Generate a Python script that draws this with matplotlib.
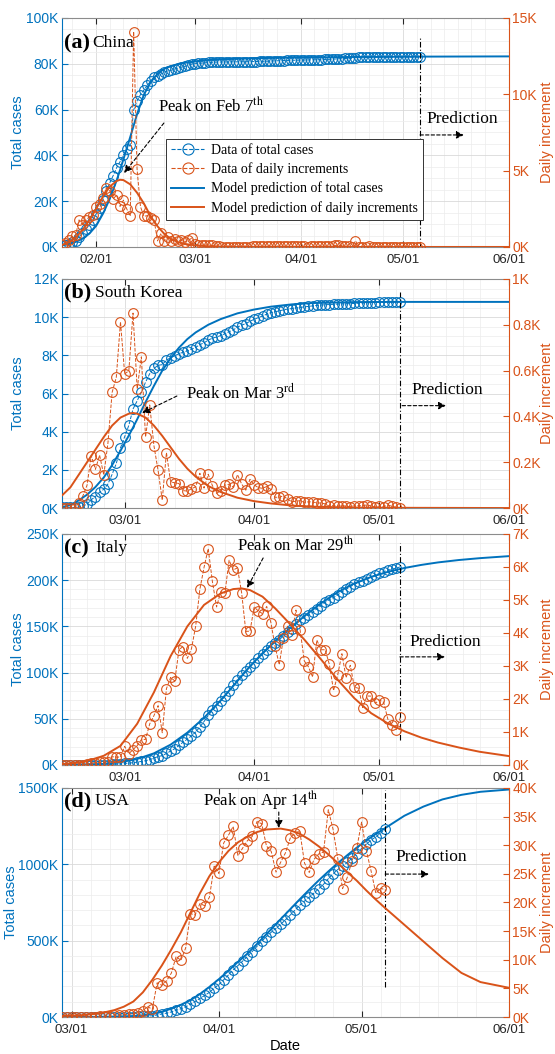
import numpy as np
import matplotlib
matplotlib.use("Agg")
import matplotlib.pyplot as plt
import matplotlib.dates as mdates
from matplotlib.lines import Line2D
from matplotlib.ticker import AutoMinorLocator, FuncFormatter, MultipleLocator

BLUE = "#0072BD"
ORANGE = "#D95319"
SERIF = "Liberation Serif"

plt.rcParams["font.family"] = "Liberation Sans"
plt.rcParams["mathtext.fontset"] = "stix"

# ---- data, all values in thousands of cases ----
# (a) China, daily data from 2020-01-22
china_start = "2020-01-22"
china_total = [
    0.571, 0.830, 1.287, 1.975, 2.744, 4.515, 5.974, 7.711, 9.692, 11.791,
    14.380, 17.205, 20.438, 24.324, 28.018, 31.161, 34.546, 37.198, 40.171, 42.638,
    44.653, 59.804, 63.851, 66.492, 68.500, 70.548, 72.436, 74.185, 74.576, 75.465,
    76.288, 76.936, 77.150, 77.658, 78.064, 78.497, 78.824, 79.251, 79.824,
    80.026, 80.151, 80.270, 80.409, 80.552, 80.651, 80.695, 80.735, 80.754, 80.778,
    80.793, 80.813, 80.824, 80.844, 80.860, 80.881, 80.894, 80.928, 80.967, 81.008,
    81.054, 81.093, 81.171, 81.218, 81.285, 81.340, 81.394, 81.439, 81.470, 81.518, 81.554,
    81.589, 81.620, 81.639, 81.669, 81.708, 81.740, 81.802, 81.865, 81.907, 81.953,
    82.052, 82.160, 82.249, 82.295, 82.341, 82.367, 82.692, 82.719, 82.735, 82.747,
    82.788, 82.798, 82.804, 82.816, 82.827, 82.830, 82.836, 82.858, 82.862, 82.874,
    82.875, 82.877, 82.880, 82.881, 82.883, 82.885,
]
china_daily = [
    0.131, 0.259, 0.444, 0.688, 0.769, 1.771, 1.459, 1.737, 1.982, 2.102,
    2.590, 2.829, 3.235, 3.887, 3.694, 3.143, 3.399, 2.656, 3.062, 2.478,
    2.015, 14.11, 5.090, 2.641, 2.009, 2.048, 1.886, 1.749, 0.394, 0.889,
    0.397, 0.648, 0.409, 0.508, 0.406, 0.433, 0.327, 0.427, 0.573,
    0.202, 0.125, 0.119, 0.139, 0.143, 0.099, 0.044, 0.040, 0.019, 0.024,
    0.015, 0.008, 0.011, 0.020, 0.016, 0.021, 0.013, 0.034, 0.039, 0.041,
    0.046, 0.039, 0.078, 0.047, 0.067, 0.055, 0.054, 0.045, 0.031, 0.048, 0.036,
    0.035, 0.031, 0.019, 0.030, 0.039, 0.032, 0.062, 0.063, 0.042, 0.046,
    0.099, 0.108, 0.089, 0.046, 0.046, 0.026, 0.400, 0.027, 0.016, 0.012,
    0.041, 0.010, 0.006, 0.012, 0.011, 0.003, 0.006, 0.022, 0.004, 0.012,
    0.001, 0.002, 0.003, 0.001, 0.002, 0.002,
]
china_model_day = [0, 2, 4, 6, 8, 10, 12, 14, 16, 17, 18, 20, 22, 24, 26, 28, 30,
                   32, 34, 36, 39, 43, 50, 60, 75, 90, 105, 131]
china_model_total = [0.8, 1.3, 2.2, 3.6, 5.8, 9.2, 14.5, 21.0, 29.0, 33.5, 38.3, 48.0,
                     58.0, 66.5, 72.0, 75.6, 77.8, 79.0, 79.8, 80.4, 81.0, 81.6, 82.1,
                     82.5, 82.8, 83.0, 83.1, 83.2]
china_model_daily = [0.12, 0.3, 0.62, 1.1, 1.75, 2.5, 3.3, 3.95, 4.32, 4.4, 4.38, 4.1,
                     3.55, 2.85, 2.0, 1.35, 0.85, 0.52, 0.32, 0.2, 0.1, 0.04, 0.01,
                     0.0, 0.0, 0.0, 0.0, 0.0]

# (b) South Korea, daily data from 2020-02-15
korea_start = "2020-02-15"
korea_total = [
    0.028, 0.029, 0.030, 0.031, 0.051, 0.104, 0.204, 0.433, 0.602, 0.833,
    0.977, 1.261, 1.766, 2.337, 3.150,
    3.736, 4.335, 5.186, 5.621, 6.088, 6.593, 7.041, 7.314, 7.478, 7.513,
    7.755, 7.869, 7.979, 8.086, 8.162, 8.236, 8.320, 8.413, 8.565, 8.652,
    8.799, 8.897, 8.961, 9.037, 9.137, 9.241, 9.332, 9.478, 9.583, 9.661, 9.786,
    9.887, 9.976, 10.062, 10.156, 10.237, 10.284, 10.331, 10.384, 10.423, 10.450,
    10.480, 10.512, 10.537, 10.564, 10.591, 10.613, 10.635, 10.653, 10.661, 10.674,
    10.683, 10.694, 10.702, 10.708, 10.718, 10.728, 10.738, 10.752, 10.761, 10.765,
    10.774, 10.780, 10.793, 10.801, 10.804, 10.806,
]
korea_daily = [
    0.000, 0.001, 0.001, 0.001, 0.020, 0.053, 0.100, 0.229, 0.169, 0.231,
    0.144, 0.284, 0.505, 0.571, 0.813,
    0.586, 0.599, 0.851, 0.520, 0.660, 0.310, 0.450, 0.273, 0.164, 0.035,
    0.242, 0.114, 0.110, 0.107, 0.076, 0.074, 0.084, 0.093, 0.152, 0.087,
    0.147, 0.098, 0.064, 0.076, 0.100, 0.104, 0.091, 0.146, 0.105, 0.078, 0.125,
    0.101, 0.089, 0.086, 0.094, 0.081, 0.047, 0.047, 0.053, 0.039, 0.027,
    0.030, 0.032, 0.025, 0.027, 0.027, 0.022, 0.022, 0.018, 0.008, 0.013,
    0.009, 0.011, 0.008, 0.006, 0.010, 0.010, 0.010, 0.014, 0.009, 0.004,
    0.009, 0.006, 0.013, 0.008, 0.003, 0.002,
]
korea_model_day = [0, 2, 4, 6, 8, 10, 12, 14, 16, 17, 18, 20, 22, 24, 26, 28, 30, 32,
                   35, 38, 42, 46, 50, 55, 60, 70, 80, 107]
korea_model_total = [0.05, 0.15, 0.4, 0.7, 1.1, 1.6, 2.25, 3.0, 3.8, 4.22, 4.65, 5.55,
                     6.4, 7.2, 7.85, 8.4, 8.85, 9.2, 9.6, 9.9, 10.2, 10.4, 10.55,
                     10.67, 10.74, 10.79, 10.8, 10.8]
korea_model_daily = [0.055, 0.09, 0.145, 0.2, 0.255, 0.31, 0.36, 0.395, 0.412, 0.415,
                     0.412, 0.395, 0.36, 0.315, 0.265, 0.215, 0.172, 0.137, 0.096,
                     0.07, 0.045, 0.03, 0.02, 0.011, 0.006, 0.002, 0.001, 0.0]

# (c) Italy, daily data from 2020-02-15
italy_start = "2020-02-15"
italy_total = [
    0.003, 0.003, 0.003, 0.003, 0.003, 0.003, 0.020, 0.079, 0.152, 0.229,
    0.322, 0.400, 0.650, 0.888, 1.128,
    1.694, 2.036, 2.502, 3.089, 3.858, 4.636, 5.883, 7.375, 9.172, 10.149,
    12.462, 15.113, 17.660, 21.157, 24.747, 27.980, 31.506, 35.713, 41.035, 47.021,
    53.578, 59.138, 63.927, 69.176, 74.386, 80.589, 86.498, 92.472, 97.689, 101.739, 105.792,
    110.574, 115.242, 119.827, 124.632, 128.948, 132.547, 135.586, 139.422, 143.626, 147.577,
    152.271, 156.363, 159.516, 162.488, 165.155, 168.941, 172.434, 175.925, 178.972, 181.228,
    183.957, 187.327, 189.973, 192.994, 195.351, 197.675, 199.414, 201.505, 203.591, 205.463,
    207.428, 209.328, 210.717, 211.938, 213.013, 214.457,
]
italy_daily = [
    0.0, 0.0, 0.0, 0.0, 0.0, 0.0, 0.017, 0.059, 0.073, 0.077,
    0.093, 0.078, 0.250, 0.238, 0.240,
    0.566, 0.342, 0.466, 0.587, 0.769, 0.778, 1.247, 1.492, 1.797, 0.977,
    2.313, 2.651, 2.547, 3.497, 3.590, 3.233, 3.526, 4.207, 5.322, 5.986,
    6.557, 5.560, 4.789, 5.249, 5.210, 6.203, 5.909, 5.974, 5.217, 4.050, 4.053,
    4.782, 4.668, 4.585, 4.805, 4.316, 3.599, 3.039, 3.836, 4.204, 3.951,
    4.694, 4.092, 3.153, 2.972, 2.667, 3.786, 3.493, 3.491, 3.047, 2.256,
    2.729, 3.370, 2.646, 3.021, 2.357, 2.324, 1.739, 2.091, 2.086, 1.872,
    1.965, 1.900, 1.389, 1.221, 1.075, 1.444,
]
italy_model_day = [0, 5, 10, 14, 18, 22, 26, 30, 34, 38, 41, 43, 45, 48, 51, 54, 58,
                   62, 66, 70, 74, 78, 82, 86, 90, 95, 100, 107]
italy_model_total = [0.3, 0.6, 1.2, 3.0, 6.5, 12.6, 22.0, 35.0, 51.0, 70.0, 85.5, 96.2,
                     106.8, 121.0, 134.0, 146.0, 161.0, 175.0, 187.0, 196.5, 203.5,
                     209.0, 213.2, 216.5, 219.2, 221.8, 223.8, 226.0]
italy_model_daily = [0.03, 0.08, 0.28, 0.58, 1.25, 2.2, 3.3, 4.2, 4.85, 5.2, 5.33, 5.35,
                     5.3, 5.1, 4.75, 4.35, 3.8, 3.2, 2.58, 2.02, 1.57, 1.26, 1.02, 0.83,
                     0.68, 0.53, 0.4, 0.27]

# (d) USA, daily data from 2020-02-28
usa_start = "2020-02-28"
usa_total = [
    0.062, 0.070,
    0.075, 0.098, 0.118, 0.149, 0.217, 0.262, 0.402, 0.518, 0.583, 0.959,
    1.281, 1.663, 2.179, 2.727, 3.499, 4.632, 6.421, 7.783, 13.747, 19.273,
    25.600, 33.276, 43.843, 53.736, 65.778, 83.836, 101.657, 121.465, 140.909, 161.831, 188.172,
    213.242, 243.622, 275.367, 308.650, 336.802, 366.317, 397.121, 428.654, 462.780, 496.535,
    526.396, 555.313, 580.619, 607.670, 636.350, 667.592, 699.706, 732.197, 759.086, 784.326,
    811.865, 840.351, 869.170, 905.358, 938.154, 965.785, 988.197, 1012.582, 1039.909, 1069.424,
    1103.461, 1132.539, 1158.040, 1180.375, 1204.351, 1229.331,
]
usa_daily = [
    0.002, 0.008,
    0.005, 0.023, 0.020, 0.031, 0.068, 0.045, 0.140, 0.116, 0.065, 0.376,
    0.322, 0.382, 0.516, 0.548, 0.772, 1.133, 1.789, 1.362, 5.964, 5.526,
    6.327, 7.676, 10.567, 9.893, 12.042, 18.058, 17.821, 19.808, 19.444, 20.922, 26.341,
    25.070, 30.380, 31.745, 33.283, 28.152, 29.515, 30.804, 31.533, 34.126, 33.755,
    29.861, 28.917, 25.306, 27.051, 28.680, 31.242, 32.114, 32.491, 26.889, 25.240,
    27.539, 28.486, 28.819, 36.188, 32.796, 27.631, 22.412, 24.385, 27.327, 29.515,
    34.037, 29.078, 25.501, 21.600, 22.500, 22.200,
]
usa_model_day = [0, 4, 8, 11, 13, 15, 17, 19, 21, 23, 25, 27, 29, 31, 33, 35, 37, 39, 41,
                 43, 46, 48, 50, 52, 54, 56, 58, 60, 62, 64, 66, 68, 72, 76, 80, 84, 88, 94]
usa_model_total = [0.1, 0.5, 1.5, 3.0, 4.5, 6.5, 11, 20, 34, 55, 80, 110, 150, 197, 248,
                   303, 361, 415, 478, 543, 641, 706, 771, 834, 895, 953, 1008, 1060,
                   1110, 1156, 1199, 1238, 1318, 1378, 1425, 1455, 1475, 1490]
usa_model_daily = [0.2, 0.3, 0.64, 1.2, 1.8, 2.7, 4.3, 6.5, 9.0, 11.8, 14.8, 18.2, 21.6,
                   24.6, 27.0, 29.0, 30.5, 31.5, 32.3, 32.75, 32.9, 32.6, 32.0, 31.0,
                   29.8, 28.4, 26.9, 25.3, 23.8, 22.1, 20.5, 19.0, 16.1, 13.2, 10.3, 7.7,
                   6.1, 5.1]


def k_fmt(v, _):
    return f"{v:g}K"


def draw_panel(fig, p):
    ax = fig.add_axes(p["rect"])
    ax2 = ax.twinx()

    start = np.datetime64(p["start"])
    days = start + np.arange(len(p["total"]))
    mdays = start + np.array(p["mday"])

    data_style = dict(ls="--", lw=0.7, marker="o", ms=7, mfc="none", mew=0.8)
    ax.plot(days, p["total"], color=BLUE, zorder=2, **data_style)
    ax.plot(mdays, p["mtotal"], color=BLUE, lw=1.4, zorder=3)
    ax2.plot(days, p["daily"], color=ORANGE, zorder=2, **data_style)
    ax2.plot(mdays, p["mdaily"], color=ORANGE, lw=1.4, zorder=3)

    ax.set_xlim(np.datetime64(p["xlim"][0]), np.datetime64(p["xlim"][1]))
    ax.set_ylim(0, p["ylim"][0])
    ax2.set_ylim(0, p["ylim"][1])
    ax.yaxis.set_major_locator(MultipleLocator(p["ystep"][0]))
    ax2.yaxis.set_major_locator(MultipleLocator(p["ystep"][1]))
    ax.yaxis.set_minor_locator(AutoMinorLocator(p["yminor"]))
    ax.yaxis.set_major_formatter(FuncFormatter(k_fmt))
    ax2.yaxis.set_major_formatter(FuncFormatter(k_fmt))

    ax.xaxis.set_major_locator(mdates.MonthLocator(bymonthday=1))
    ax.xaxis.set_minor_locator(mdates.DayLocator(bymonthday=[1, 5, 9, 13, 17, 21, 25]))
    ax.xaxis.set_major_formatter(mdates.DateFormatter("%m/%d"))

    ax.set_axisbelow(True)
    ax.grid(which="major", color="#d9d9d9", lw=0.6)
    ax.grid(which="minor", color="#ececec", lw=0.5)

    ax.tick_params(axis="x", which="major", direction="in", length=4, top=True,
                   labelsize=9.5, colors="#262626", pad=5)
    ax.tick_params(axis="y", which="major", direction="in", length=4, labelsize=10,
                   colors=BLUE, pad=2.5)
    ax.tick_params(which="minor", length=0)
    ax2.tick_params(axis="y", which="major", direction="in", length=4, labelsize=10,
                    colors=ORANGE, pad=2.5)

    for s in ("top", "bottom"):
        ax.spines[s].set_color("#8c8c8c")
    ax.spines["left"].set_color(BLUE)
    ax.spines["right"].set_visible(False)
    for s in ("top", "bottom", "left"):
        ax2.spines[s].set_visible(False)
    ax2.spines["right"].set_color(ORANGE)

    ax.set_ylabel("Total cases", color=BLUE, fontsize=10.5)
    ax.yaxis.set_label_coords(p["ylab_x"], 0.5)
    ax.yaxis.label.set_verticalalignment("center")
    ax2.set_ylabel("Daily increment", color=ORANGE, fontsize=10.5)
    ax2.yaxis.set_label_coords(1.084, 0.5)
    ax2.yaxis.label.set_verticalalignment("center")

    # panel tag and country name
    ax2.text(0.004, p["tag_y"], p["tag"], transform=ax.transAxes, family=SERIF,
             fontsize=16, fontweight="bold", va="center", ha="left")
    ax2.text(p["name_x"], p["tag_y"], p["name"], transform=ax.transAxes, family=SERIF,
             fontsize=12.5, va="center", ha="left")

    # peak annotation
    ax2.text(*p["peak_text"], p["peak"], transform=ax.transAxes, family=SERIF,
             fontsize=12, va="center", ha="left")
    ax2.annotate("", xy=p["peak_tip"], xytext=p["peak_tail"], xycoords="axes fraction",
                 arrowprops=dict(arrowstyle="-|>", ls=(0, (3, 2)), lw=0.8, color="k",
                                 mutation_scale=11, shrinkA=0, shrinkB=0))

    # prediction divider
    last = days[-1]
    ax.axvline(last, ymin=p["vline"][0], ymax=p["vline"][1], color="k", lw=0.8,
               ls=(0, (5, 2, 1, 2)), zorder=4)
    ax2.text(*p["pred_text"], "Prediction", transform=ax.transAxes, family=SERIF,
             fontsize=12.5, va="center", ha="left")
    x0, x1, y = p["pred_arrow"]
    ax2.annotate("", xy=(x1, y), xytext=(x0, y), xycoords="axes fraction",
                 arrowprops=dict(arrowstyle="-|>", ls=(0, (3, 2)), lw=0.8, color="k",
                                 mutation_scale=11, shrinkA=0, shrinkB=0))
    return ax, ax2


fig = plt.figure(figsize=(5.55, 10.54), dpi=100)

panels = [
    dict(rect=[0.1117, 0.7657, 0.8054, 0.2173], start=china_start,
         xlim=("2020-01-22", "2020-06-01"), total=china_total, daily=china_daily,
         mday=china_model_day, mtotal=china_model_total, mdaily=china_model_daily,
         ylim=(100, 15), ystep=(20, 5), yminor=4, ylab_x=-0.098,
         tag="(a)", name="China", tag_y=0.89, name_x=0.067,
         peak="Peak on Feb 7$^{\\mathrm{th}}$", peak_text=(0.215, 0.616),
         peak_tip=(0.139, 0.323), peak_tail=(0.228, 0.541),
         vline=(0.0, 0.918), pred_text=(0.815, 0.559), pred_arrow=(0.801, 0.899, 0.489)),
    dict(rect=[0.1117, 0.5180, 0.8054, 0.2173], start=korea_start,
         xlim=("2020-02-15", "2020-06-01"), total=korea_total, daily=korea_daily,
         mday=korea_model_day, mtotal=korea_model_total, mdaily=korea_model_daily,
         ylim=(12, 1), ystep=(2, 0.2), yminor=4, ylab_x=-0.098,
         tag="(b)", name="South Korea", tag_y=0.939, name_x=0.074,
         peak="Peak on Mar 3$^{\\mathrm{rd}}$", peak_text=(0.277, 0.502),
         peak_tip=(0.179, 0.415), peak_tail=(0.257, 0.489),
         vline=(0.0, 0.944), pred_text=(0.781, 0.515), pred_arrow=(0.761, 0.859, 0.447)),
    dict(rect=[0.1117, 0.2742, 0.8054, 0.2192], start=italy_start,
         xlim=("2020-02-15", "2020-06-01"), total=italy_total, daily=italy_daily,
         mday=italy_model_day, mtotal=italy_model_total, mdaily=italy_model_daily,
         ylim=(250, 7), ystep=(50, 1), yminor=5, ylab_x=-0.098,
         tag="(c)", name="Italy", tag_y=0.939, name_x=0.074,
         peak="Peak on Mar 29$^{\\mathrm{th}}$", peak_text=(0.391, 0.952),
         peak_tip=(0.414, 0.766), peak_tail=(0.450, 0.896),
         vline=(0.11, 0.96), pred_text=(0.777, 0.532), pred_arrow=(0.756, 0.857, 0.468)),
    dict(rect=[0.1117, 0.0351, 0.8054, 0.2173], start=usa_start,
         xlim=("2020-02-28", "2020-06-01"), total=usa_total, daily=usa_daily,
         mday=usa_model_day, mtotal=usa_model_total, mdaily=usa_model_daily,
         ylim=(1500, 40), ystep=(500, 5), yminor=5, ylab_x=-0.113,
         tag="(d)", name="USA", tag_y=0.943, name_x=0.074,
         peak="Peak on Apr 14$^{\\mathrm{th}}$", peak_text=(0.315, 0.948),
         peak_tip=(0.485, 0.825), peak_tail=(0.485, 0.895),
         vline=(0.13, 0.99), pred_text=(0.745, 0.699), pred_arrow=(0.723, 0.821, 0.624)),
]

axes = [draw_panel(fig, p) for p in panels]

# legend in panel (a)
handles = [
    Line2D([], [], color=BLUE, ls="--", lw=0.8, marker="o", ms=8, mfc="none", mew=0.8),
    Line2D([], [], color=ORANGE, ls="--", lw=0.8, marker="o", ms=8, mfc="none", mew=0.8),
    Line2D([], [], color=BLUE, lw=1.4),
    Line2D([], [], color=ORANGE, lw=1.4),
]
labels = ["Data of total cases", "Data of daily increments",
          "Model prediction of total cases", "Model prediction of daily increments"]
leg = axes[0][1].legend(handles, labels, loc="upper left", bbox_to_anchor=(0.233, 0.472),
                        prop={"family": SERIF, "size": 10}, frameon=True, fancybox=False,
                        edgecolor="#333333", framealpha=1, borderpad=0.35,
                        labelspacing=0.4, handlelength=2.4, handletextpad=0.5,
                        borderaxespad=0)
leg.get_frame().set_linewidth(0.7)

axes[3][0].set_xlabel("Date", fontsize=10.5, labelpad=2)

fig.savefig("out.png", dpi=100)
